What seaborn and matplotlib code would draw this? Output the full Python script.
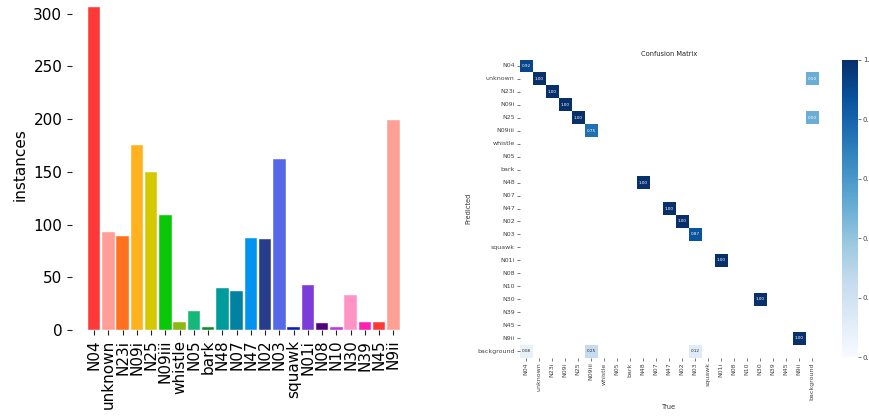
import numpy as np
import pandas as pd
import matplotlib
matplotlib.use("Agg")
import matplotlib.pyplot as plt
import seaborn as sns

# ---------------- data ----------------
classes = ["N04", "unknown", "N23i", "N09i", "N25", "N09iii", "whistle", "N05",
           "bark", "N48", "N07", "N47", "N02", "N03", "squawk", "N01i", "N08",
           "N10", "N30", "N39", "N45", "N9ii"]
instances = [306, 93, 89, 175, 150, 109, 8, 18, 3, 40, 37, 87, 86, 162, 3, 43,
             7, 3, 33, 8, 8, 199]
bar_colors = ["#FF3838", "#FF9D97", "#FF701F", "#FFB21D", "#D4C800", "#08C808",
              "#8CB814", "#14B878", "#108C2C", "#009C9C", "#0082A0", "#0094F0",
              "#283C8C", "#5468E8", "#0A1CC0", "#7C3CD8", "#500080", "#C038E0",
              "#FF94C4", "#FF20B0", "#FF3838", "#FFA094"]

cm_labels = classes + ["background"]
cm_pred = ["N04", "unknown", "N23i", "N09i", "N25", "N09iii", "N48", "N47", "N02",
           "N03", "N01i", "N30", "N9ii", "unknown", "N25", "background",
           "background", "background"]
cm_true = ["N04", "unknown", "N23i", "N09i", "N25", "N09iii", "N48", "N47", "N02",
           "N03", "N01i", "N30", "N9ii", "background", "background", "N04",
           "N09iii", "N03"]
cm_vals = [0.92, 1.00, 1.00, 1.00, 1.00, 0.75, 1.00, 1.00, 1.00, 0.87, 1.00, 1.00,
           1.00, 0.50, 0.50, 0.08, 0.25, 0.12]
cbar_ticks = [0.0, 0.2, 0.4, 0.6, 0.8, 1.0]

# ---------------- figure ----------------
W, H = 869, 416
fig = plt.figure(figsize=(W / 100, H / 100), dpi=100)
plt.rcParams['font.family'] = ['DejaVu Sans']

def box(x0, y0, x1, y1):
    return [x0 / W, 1 - y1 / H, (x1 - x0) / W, (y1 - y0) / H]

# ---- bar chart ----
ax = fig.add_axes(box(72, 0, 402, 330))
df = pd.DataFrame({"cls": classes, "n": instances})
sns.barplot(data=df, x="cls", y="n", hue="cls", palette=bar_colors, legend=False,
            saturation=1, width=0.88, ax=ax, order=classes, hue_order=classes,
            edgecolor="white", linewidth=0.3)
ax.set_xlim(-1.55, 21.6)
ax.set_ylim(0, 313)
ax.set_yticks([0, 50, 100, 150, 200, 250, 300])
for s in ax.spines.values():
    s.set_visible(False)
ax.set_xlabel("")
ax.set_ylabel("instances", fontsize=11)
ax.tick_params(axis="both", labelsize=11, length=3.5, width=0.8, color="#222222")
ax.tick_params(axis="x", labelrotation=90)

# ---- confusion matrix ----
mat = pd.DataFrame(np.nan, index=cm_labels, columns=cm_labels)
for p, t, v in zip(cm_pred, cm_true, cm_vals):
    mat.loc[p, t] = v

hax = fig.add_axes(box(519.5, 59.5, 818.5, 357.5))
cax = fig.add_axes(box(842, 60, 858, 357))
sns.heatmap(mat, ax=hax, cbar_ax=cax, cmap="Blues", vmin=0.0, vmax=1.0,
            annot=True, fmt=".2f", annot_kws={"size": 3},
            linewidths=0,
            xticklabels=cm_labels, yticklabels=cm_labels)
hax.set_position(box(519.5, 59.5, 818.5, 357.5))
hax.tick_params(axis="both", labelsize=4.5, length=2, width=0.5,
                colors="#444444", pad=1.5)
hax.tick_params(axis="x", labelrotation=90)
hax.tick_params(axis="y", labelrotation=0)
hax.set_xlabel("True", fontsize=4.8, color="#333333", labelpad=3)
hax.set_ylabel("Predicted", fontsize=4.8, color="#333333", labelpad=4)
hax.set_title("Confusion Matrix", fontsize=4.8, color="#222222", pad=2.5)

cax.set_yticks(cbar_ticks)
cax.tick_params(labelsize=5, length=2, width=0.5, colors="#444444", pad=1.5)

fig.savefig("out.png", dpi=100)
